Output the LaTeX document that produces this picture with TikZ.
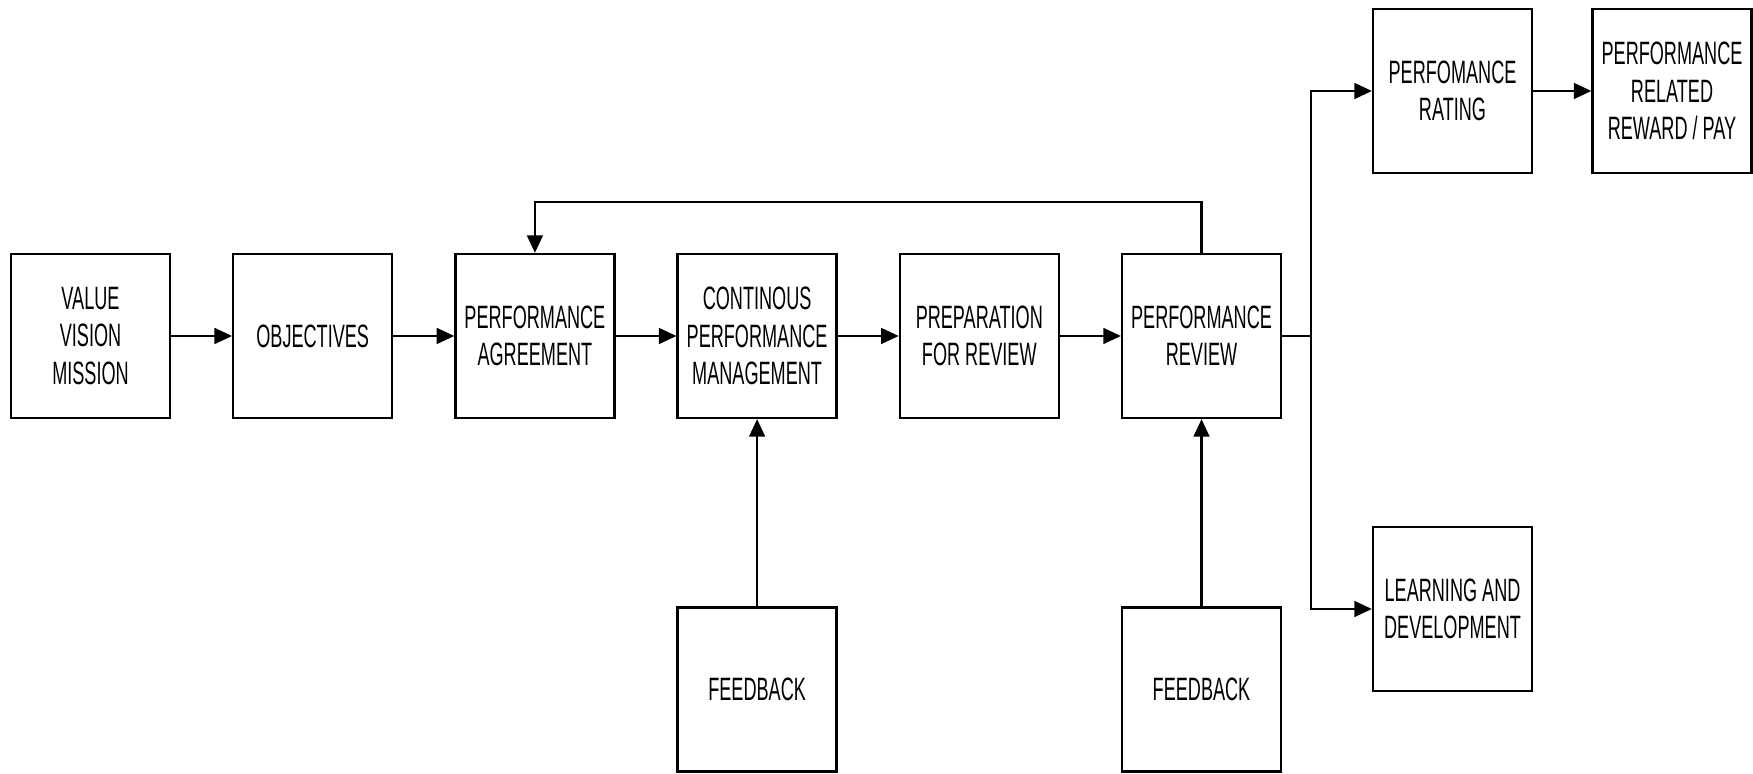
\documentclass[tikz,border=0pt]{standalone}
\usepackage{fontspec}
\setmainfont{Liberation Sans}[FakeStretch=0.56]
\usepackage{tikz}
\usetikzlibrary{arrows.meta}

\begin{document}
\begin{tikzpicture}[line width=0.65pt, every node/.style={rectangle, draw, fill=white, minimum width=1.59cm, minimum height=1.64cm, inner sep=0pt, align=center, font=\fontsize{9.2}{10.6}\selectfont}, >={Triangle[length=5pt, width=4.5pt]}]

    \useasboundingbox (0, 0) rectangle (17.53, 7.74);
    \node (vision) at (0.905, 4.38) {VALUE\\VISION\\MISSION};
    \node (objectives) at (3.127, 4.38) {OBJECTIVES} edge [<-] (vision);
    \node (agreement) at (5.349, 4.38) {PERFORMANCE\\AGREEMENT} edge [<-] (objectives);
    \node (management) at (7.571, 4.38) {CONTINOUS\\PERFORMANCE\\MANAGEMENT} edge [<-] (agreement);
    \node (preparation) at (9.793, 4.38) {PREPARATION\\FOR REVIEW} edge [<-] (management);
    \node (review) at (12.015, 4.38) {PERFORMANCE\\REVIEW} edge [<-] (preparation);

    \node (feedbackA) at (7.571, 0.845) {FEEDBACK} edge [->] (management);
    \node (feedbackB) at (12.015, 0.845) {FEEDBACK} edge [->] (review);

    \node (rating) at (14.525, 6.83) {PERFOMANCE\\RATING};
    \node (reward) at (16.72, 6.83) {PERFORMANCE\\RELATED\\REWARD / PAY} edge [<-] (rating);
    \node (learning) at (14.525, 1.65) {LEARNING AND\\DEVELOPMENT};

    % loop back and branch
    \coordinate (looptop) at (12.015, 5.72);
    \coordinate (split) at (13.11, 4.38);
    \draw[->] (review.north) -- (looptop) -| (agreement.north);
    \draw (review) -- (split);
    \draw[->] (split) |- (rating);
    \draw[->] (split) |- (learning);

\end{tikzpicture}
\end{document}
